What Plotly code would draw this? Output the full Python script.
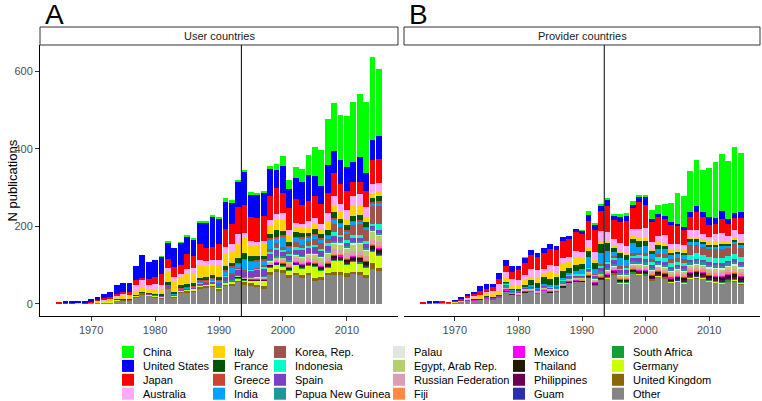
import plotly.graph_objects as go

years = list(range(1965, 2016))

countries = ["China", "United States", "Japan", "Australia", "Italy", "France",
             "Greece", "India", "Korea, Rep.", "Indonesia", "Spain", "Papua New Guinea",
             "Palau", "Egypt, Arab Rep.", "Russian Federation", "Fiji", "Mexico",
             "Thailand", "Philippines", "Guam", "South Africa", "Germany",
             "United Kingdom", "Other"]

panel_titles = ["User countries", "Provider countries"]
x_ticks = [1970, 1980, 1990, 2000, 2010]
y_ticks = [0, 200, 400, 600]
marker_year = 1993.5

# ---------------- Panel A: user countries (1965..2015) ----------------
user_china = [0,0,0,0,0,0,0,0,0,0, 0,0,0,0,0,0,1,4,0,1, 4,3,1,4,6,4,10,8,6,6, 5,4,5,5,15,26,24,28,34,54, 75,92,118,125,116,132,153,162,183,213, 174]
user_us = [0,4,3,4,3,5,7,12,13,22, 22,24,37,58,42,44,46,41,49,57, 45,44,56,66,77,65,70,55,63,85, 58,60,60,71,48,69,49,55,58,66, 52,48,73,55,62,62,54,65,45,52, 59]
user_japan = [3,2,2,2,1,2,3,4,4,5, 5,5,11,7,17,17,28,24,25,23, 39,30,42,35,34,40,45,52,69,72, 64,63,64,64,66,54,58,61,49,52, 57,50,51,61,51,48,34,32,43,62, 62]
user_australia = [0,0,0,1,0,1,2,2,3,3, 5,3,17,16,13,16,10,10,13,10, 13,12,13,13,12,15,15,17,28,14, 10,10,8,13,17,17,13,12,11,17, 13,15,22,25,22,23,26,28,26,26, 24]
user_italy = [0,0,0,0,0,1,2,3,4,6, 8,8,10,13,8,10,13,26,26,20, 25,26,33,26,27,30,35,30,34,38, 28,26,30,22,26,29,17,13,13,13, 13,13,21,16,17,17,26,25,13,11, 11]
user_france = [0,0,0,0,0,0,0,0,1,1, 1,1,2,3,2,3,3,7,4,7, 9,8,6,9,6,8,10,10,13,15, 12,11,9,11,17,10,9,11,10,8, 13,10,13,15,10,11,13,12,11,10, 13]
user_greece = [0,0,0,0,0,0,0,0,0,0, 0,0,0,1,0,1,1,1,1,1, 1,1,2,1,2,2,3,2,3,3, 3,2,3,4,3,4,3,3,4,3, 3,4,3,4,3,4,3,4,3,3, 4]
user_india = [0,0,0,0,0,0,0,0,0,0, 0,0,0,0,0,0,1,2,1,2, 2,3,3,4,5,6,10,16,11,26, 18,17,13,23,13,26,10,11,16,9, 12,9,9,10,8,7,8,6,7,6, 9]
user_korea = [0,0,0,0,0,0,0,0,0,0, 0,0,0,0,0,0,0,0,0,0, 0,0,1,1,1,1,2,2,2,3, 3,3,4,9,13,8,8,13,8,13, 14,15,10,23,20,15,26,29,26,46, 46]
user_indonesia = [0,0,0,0,0,0,0,0,0,0, 0,0,0,0,0,0,0,0,0,0, 0,0,1,1,1,1,1,1,2,2, 2,2,3,3,4,4,4,5,5,5, 6,5,6,8,7,8,7,8,9,7, 14]
user_spain = [0,0,0,0,0,0,0,0,0,0, 0,0,0,0,1,1,1,2,2,2, 3,3,4,4,5,6,12,13,15,13, 16,18,20,17,17,13,13,13,16,13, 15,12,14,15,10,8,10,8,10,8, 9]
user_png = [0,0,0,0,0,0,0,0,0,0, 0,0,0,0,0,0,0,0,0,0, 0,0,1,0,1,1,1,1,1,1, 1,1,1,2,2,2,2,2,2,2, 2,2,3,3,3,3,3,3,3,2, 3]
user_palau = [0,0,0,0,0,0,0,0,0,0, 0,0,0,0,0,0,0,0,0,0, 0,0,0,0,0,0,0,0,0,0, 1,1,1,2,2,2,2,2,2,3, 3,3,3,3,4,4,4,3,3,3, 3]
user_egypt = [0,0,0,0,0,0,0,0,0,0, 0,0,0,0,0,0,0,0,0,0, 0,0,0,0,0,0,1,1,1,1, 1,1,2,3,4,5,6,7,8,9, 10,11,12,15,16,12,17,20,15,22, 17]
user_russia = [0,0,0,0,0,0,0,0,0,0, 0,0,0,0,0,0,0,0,0,0, 0,0,0,0,0,0,1,1,1,2, 2,3,3,4,5,6,6,7,7,8, 8,8,9,11,10,11,10,11,10,11, 11]
user_fiji = [0,0,0,0,0,0,0,0,0,0, 0,0,0,0,0,0,0,0,0,0, 0,0,0,0,0,0,0,0,0,0, 0,0,1,1,1,1,1,1,1,1, 1,2,2,2,2,2,2,2,2,2, 2]
user_mexico = [0,0,0,0,0,0,0,0,0,0, 0,0,0,0,0,0,0,0,0,0, 0,0,0,0,0,0,0,1,1,1, 1,1,1,1,2,2,2,2,2,2, 2,2,3,3,3,3,3,3,3,3, 3]
user_thailand = [0,0,0,0,0,0,0,0,0,0, 0,0,0,0,0,0,0,0,0,0, 0,0,0,0,0,0,0,1,1,1, 1,1,1,2,2,3,3,3,4,4, 4,5,5,6,6,7,7,8,8,8, 12]
user_philippines = [0,0,0,0,0,0,0,0,0,0, 0,0,0,0,0,0,0,0,0,0, 0,0,0,0,0,0,0,0,0,0, 1,1,1,1,1,1,1,1,2,2, 2,2,2,3,2,3,2,3,2,2, 2]
user_guam = [0,0,0,0,0,0,0,0,0,0, 0,0,0,0,0,0,0,0,0,0, 0,0,0,0,0,0,0,0,0,0, 0,0,0,1,1,1,1,1,1,1, 1,1,1,1,1,1,1,1,1,1, 1]
user_south_africa = [0,0,0,0,0,0,0,0,0,0, 0,0,0,0,0,0,0,1,1,1, 1,1,1,1,1,1,1,1,2,2, 2,2,2,2,2,2,2,2,2,2, 2,3,3,3,3,3,3,3,3,3, 3]
user_germany = [0,0,0,0,0,0,0,1,1,1, 1,1,1,2,2,2,2,2,2,3, 3,3,3,3,3,4,5,5,5,6, 6,10,14,13,10,10,12,20,17,18, 30,15,13,30,28,22,26,24,20,30, 32]
user_uk = [0,0,0,0,0,0,1,1,1,2, 2,2,2,2,2,3,3,3,3,3, 3,3,4,4,4,4,4,5,5,5, 5,6,7,6,7,7,7,7,8,7, 8,8,7,6,8,8,6,6,7,15, 8]
user_other = [0,0,1,1,1,2,2,3,3,7, 9,9,17,23,20,16,14,38,16,28, 30,32,40,42,44,35,46,46,56,50, 48,43,38,75,83,80,67,73,67,73, 58,62,73,75,75,70,76,75,67,90, 85]

# ---------------- Panel B: provider countries (1965..2015) ----------------
provider_china = [0,0,0,0,0,0,0,0,0,0, 0,0,0,0,0,0,2,0,0,0, 0,0,0,0,0,1,11,2,7,3, 6,7,8,9,4,4,23,24,31,51, 78,80,106,118,108,127,145,149,150,172, 152]
provider_us = [0,1,1,0,0,1,2,3,5,13, 11,9,15,15,14,11,13,13,10,12, 14,11,11,10,8,9,14,16,13,16, 9,13,12,9,15,20,9,9,9,8, 7,8,13,16,13,21,14,19,13,11, 15]
provider_japan = [3,2,2,2,1,3,4,5,5,9, 9,11,15,14,18,26,32,36,34,41, 41,40,43,46,50,45,49,56,51,67, 50,55,65,53,69,60,52,47,41,47, 45,40,34,47,43,30,26,36,30,32, 41]
provider_australia = [0,0,0,0,0,0,1,2,3,2, 2,6,17,17,15,13,13,21,20,11, 17,20,13,13,15,17,21,21,26,22, 17,20,18,19,23,26,17,18,21,17, 15,13,17,17,14,13,21,22,15,19, 17]
provider_italy = [0,0,0,0,0,1,2,3,4,8, 9,9,11,10,10,10,11,9,14,11, 18,9,21,15,20,15,8,8,8,7, 5,6,6,7,8,8,5,6,6,5, 5,5,5,5,5,5,5,5,4,5, 5]
provider_france = [0,0,0,0,0,0,0,0,1,1, 1,1,1,2,3,3,4,13,12,17, 17,21,18,12,15,13,15,15,21,19, 11,11,12,12,15,12,9,10,10,8, 8,8,8,7,7,7,7,7,6,7, 7]
provider_greece = [0,0,0,0,0,0,0,0,0,0, 0,0,0,1,0,0,0,0,0,0, 0,0,0,0,0,0,0,0,0,0, 0,0,0,0,0,0,0,0,0,0, 0,0,0,0,0,0,0,0,0,0, 0]
provider_india = [0,0,0,0,0,0,0,0,0,0, 0,0,1,2,2,2,2,2,2,3, 3,3,4,6,9,13,26,13,30,26, 12,23,15,26,15,18,12,13,13,10, 10,9,8,8,8,7,7,7,6,6, 6]
provider_korea = [0,0,0,0,0,0,0,0,0,0, 0,0,0,0,0,0,0,0,0,0, 0,0,0,0,0,0,1,1,3,3, 4,4,5,6,7,8,7,9,10,10, 9,10,25,22,20,20,22,24,22,25, 25]
provider_indonesia = [0,0,0,0,0,0,0,0,0,0, 0,1,0,2,1,0,0,1,1,1, 1,1,2,2,2,2,3,3,5,5, 5,5,6,7,8,8,8,9,9,10, 8,10,12,14,12,12,12,13,12,13, 13]
provider_spain = [0,1,0,1,1,0,0,1,1,1, 1,1,1,3,2,2,3,3,3,3, 3,3,4,4,4,4,5,5,10,10, 10,8,8,8,9,9,7,7,7,6, 6,6,7,7,7,7,7,7,6,7, 7]
provider_png = [0,0,0,0,0,0,0,1,1,0, 1,1,1,4,2,2,2,2,2,2, 2,2,3,3,3,3,3,3,5,5, 4,4,4,4,5,5,4,4,4,4, 4,4,5,5,5,5,5,5,5,5, 5]
provider_palau = [0,0,0,0,0,0,0,0,0,0, 0,0,0,0,0,0,0,0,0,0, 0,0,0,0,0,0,1,1,1,2, 2,2,2,3,3,3,3,3,3,3, 3,3,4,4,4,4,4,4,4,4, 4]
provider_egypt = [0,0,0,0,0,0,0,0,0,0, 0,0,0,0,0,2,2,2,1,2, 2,2,2,2,2,2,2,2,2,3, 3,3,3,3,4,4,4,4,5,5, 5,5,6,6,6,7,7,8,8,10, 9]
provider_russia = [0,0,0,0,0,0,0,0,0,0, 0,0,0,2,1,2,2,2,2,2, 2,2,2,2,2,2,3,3,3,3, 3,3,3,4,4,4,4,5,5,5, 5,5,6,6,6,6,6,6,6,6, 6]
provider_fiji = [0,0,0,0,0,0,0,0,0,0, 0,0,0,2,1,1,1,1,1,1, 1,1,1,1,1,2,2,2,2,2, 2,2,2,3,3,3,3,3,3,3, 3,3,3,3,3,3,3,3,3,3, 3]
provider_mexico = [0,0,0,0,0,1,1,1,1,1, 2,1,1,3,2,2,2,2,2,2, 2,2,2,2,2,2,2,2,3,3, 3,3,3,3,3,3,3,3,3,3, 3,3,3,3,3,3,3,3,3,3, 3]
provider_thailand = [0,0,0,0,0,0,0,0,0,0, 0,0,0,1,0,0,1,1,1,1, 1,1,2,2,2,2,2,2,2,3, 3,3,3,3,4,4,4,5,5,5, 6,6,6,7,7,7,8,8,8,9, 10]
provider_philippines = [0,0,0,0,0,0,0,0,0,0, 0,0,0,2,1,0,0,0,0,0, 0,0,1,1,1,1,2,2,2,2, 2,2,2,2,2,2,2,2,2,2, 3,3,3,3,3,3,3,3,3,3, 3]
provider_guam = [0,0,0,0,0,0,0,0,0,0, 0,0,0,0,0,0,0,0,0,0, 0,0,0,0,0,0,1,1,1,1, 1,1,1,1,1,1,1,1,1,1, 1,1,1,1,1,1,1,1,1,1, 1]
provider_south_africa = [0,0,0,0,0,0,0,0,0,0, 0,0,0,0,0,0,0,0,0,0, 0,0,0,0,0,0,1,1,1,2, 2,2,2,2,2,2,2,2,2,2, 2,2,2,2,2,2,2,2,2,2, 2]
provider_germany = [0,0,0,0,0,0,0,0,0,0, 0,0,0,0,0,0,0,0,0,0, 0,0,0,0,0,0,0,0,0,1, 1,1,1,1,1,1,1,1,1,1, 2,2,2,2,2,2,2,2,2,3, 3]
provider_uk = [0,0,0,0,0,0,0,0,0,0, 0,0,0,0,0,0,0,0,0,0, 0,0,0,0,0,0,0,0,0,1, 1,1,1,1,1,1,1,1,1,1, 1,1,1,1,1,1,1,1,1,1, 1]
provider_other = [0,1,2,2,1,3,5,7,9,10, 14,12,17,32,24,21,30,31,26,34, 30,31,43,55,57,56,67,48,62,65, 76,52,52,79,75,74,61,70,66,54, 56,52,65,66,64,57,54,52,58,58, 50]

user = dict(zip(countries, [user_china, user_us, user_japan, user_australia, user_italy,
    user_france, user_greece, user_india, user_korea, user_indonesia, user_spain, user_png,
    user_palau, user_egypt, user_russia, user_fiji, user_mexico, user_thailand,
    user_philippines, user_guam, user_south_africa, user_germany, user_uk, user_other]))
provider = dict(zip(countries, [provider_china, provider_us, provider_japan, provider_australia,
    provider_italy, provider_france, provider_greece, provider_india, provider_korea,
    provider_indonesia, provider_spain, provider_png, provider_palau, provider_egypt,
    provider_russia, provider_fiji, provider_mexico, provider_thailand, provider_philippines,
    provider_guam, provider_south_africa, provider_germany, provider_uk, provider_other]))

colors = {
    "China": "#00FF00", "United States": "#0000FF", "Japan": "#FF0000",
    "Australia": "#FFAAFF", "Italy": "#FFD300", "France": "#005500",
    "Greece": "#CC4433", "India": "#00A2FF", "Korea, Rep.": "#A0524D",
    "Indonesia": "#00FFC6", "Spain": "#7D3FC3", "Papua New Guinea": "#1F9698",
    "Palau": "#E1E6E1", "Egypt, Arab Rep.": "#B5CF6F", "Russian Federation": "#DB9DB4",
    "Fiji": "#FF8A45", "Mexico": "#FF00FF", "Thailand": "#221A00",
    "Philippines": "#6B0050", "Guam": "#2A2FAE", "South Africa": "#12A12E",
    "Germany": "#CCFF00", "United Kingdom": "#8C6508", "Other": "#858585",
}

W, H = 762, 401
FONT = "Liberation Sans, Arial, sans-serif"


def fx(p):
    return p / W


def fy(p):
    return 1 - p / H


fig = go.Figure()
for name in countries[::-1]:
    for data, xa, ya in ((user, "x", "y"), (provider, "x2", "y2")):
        fig.add_trace(go.Bar(
            x=years, y=data[name], name=name, xaxis=xa, yaxis=ya, width=0.9,
            marker=dict(color=colors[name], line=dict(width=0)), showlegend=False))

panel_px = [(40, 398), (404, 760)]
top_px, bot_px = 45, 316
all_totals = [sum(v) for v in zip(*user.values())] + [sum(v) for v in zip(*provider.values())]
ymax = max(all_totals)
yr = [-0.05 * ymax, 1.05 * ymax]
xspan = (years[-1] + 0.45) - (years[0] - 0.45)
xr = [years[0] - 0.45 - 0.05 * xspan, years[-1] + 0.45 + 0.05 * xspan]

axis_common = dict(showgrid=False, zeroline=False, ticks="outside", ticklen=4,
                   tickcolor="#333333", tickwidth=1,
                   tickfont=dict(family=FONT, size=11, color="#4D4D4D"))
fig.update_layout(
    xaxis=dict(domain=[fx(panel_px[0][0]), fx(panel_px[0][1])], range=xr, anchor="y",
               tickvals=x_ticks, showline=True, linecolor="black", linewidth=1, **axis_common),
    xaxis2=dict(domain=[fx(panel_px[1][0]), fx(panel_px[1][1])], range=xr, anchor="y2",
                tickvals=x_ticks, showline=True, linecolor="black", linewidth=1, **axis_common),
    yaxis=dict(domain=[fy(bot_px), fy(top_px)], range=yr, anchor="x", tickvals=y_ticks,
               showline=True, linecolor="black", linewidth=1, **axis_common),
    yaxis2=dict(domain=[fy(bot_px), fy(top_px)], range=yr, anchor="x2", matches="y",
                showticklabels=False, showline=False, showgrid=False, zeroline=False, ticks=""),
    barmode="stack",
    width=W, height=H, margin=dict(l=0, r=0, t=0, b=0),
    paper_bgcolor="white", plot_bgcolor="white",
    font=dict(family=FONT, size=11, color="black"),
    showlegend=False,
)

shapes = []
annotations = []
for i, (x0, x1) in enumerate(panel_px):
    xref = "x" if i == 0 else "x2"
    yref = "y domain" if i == 0 else "y2 domain"
    shapes.append(dict(type="line", xref=xref, yref=yref, x0=marker_year, x1=marker_year,
                       y0=0, y1=1, line=dict(color="black", width=1)))
    shapes.append(dict(type="rect", xref="paper", yref="paper", x0=fx(x0), x1=fx(x1),
                       y0=fy(45), y1=fy(27), line=dict(color="#333333", width=1),
                       fillcolor="white"))
    annotations.append(dict(text=panel_titles[i], xref="paper", yref="paper",
                            x=fx((x0 + x1) / 2), y=fy(36), showarrow=False,
                            font=dict(family=FONT, size=11, color="#1A1A1A"),
                            xanchor="center", yanchor="middle"))
    annotations.append(dict(text="AB"[i], xref="paper", yref="paper", x=fx(x0 + 3), y=fy(14),
                            showarrow=False, font=dict(family=FONT, size=28, color="black"),
                            xanchor="left", yanchor="middle"))

annotations.append(dict(text="N publications", xref="paper", yref="paper", x=fx(12),
                        y=fy((top_px + bot_px) / 2), textangle=-90, showarrow=False,
                        font=dict(family=FONT, size=13, color="black"),
                        xanchor="center", yanchor="middle"))

# legend drawn as keys + labels, 4 rows x 6 columns (column-major)
col_px = [122, 213, 274, 393, 513, 612]
row_top = 346
row_pitch = 13.9
key = 12
for idx, name in enumerate(countries):
    c, r = divmod(idx, 4)
    x0 = col_px[c]
    y0 = row_top + r * row_pitch
    shapes.append(dict(type="rect", xref="paper", yref="paper", x0=fx(x0), x1=fx(x0 + key),
                       y0=fy(y0 + key), y1=fy(y0), line=dict(width=0),
                       fillcolor=colors[name]))
    annotations.append(dict(text=name, xref="paper", yref="paper", x=fx(x0 + key + 7),
                            y=fy(y0 + key / 2), showarrow=False, xanchor="left",
                            yanchor="middle", font=dict(family=FONT, size=11, color="black")))

fig.update_layout(shapes=shapes, annotations=annotations)
fig.write_html("out.html", config={"displayModeBar": False},
               post_script="document.body.style.margin='0px';document.body.style.overflow='hidden';")
